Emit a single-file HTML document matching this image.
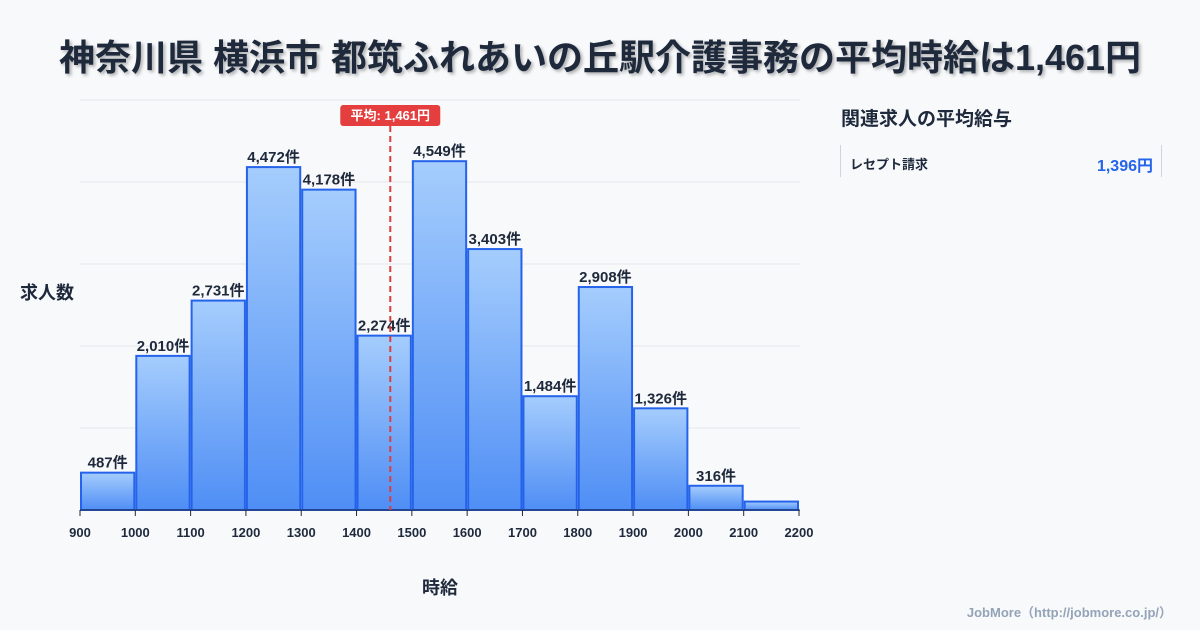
<!DOCTYPE html>
<html><head><meta charset="utf-8"><style>
body{margin:0;width:1200px;height:630px;background:#f8f9fb;font-family:"Liberation Sans","Noto Sans CJK JP",sans-serif;overflow:hidden;position:relative;color:#1e293b}
#title{position:absolute;left:0;width:1200px;top:29px;text-align:center;font-size:36px;font-weight:bold;color:#1e293b;text-shadow:2px 2px 3px rgba(0,0,0,0.3);white-space:nowrap}
#side-title{position:absolute;left:841px;top:104px;font-size:19px;font-weight:bold}
#side-item{position:absolute;left:840px;top:145px;width:320px;height:32px;border-left:1px solid #cbd5e1;border-right:1px solid #cbd5e1}
#side-item .l{position:absolute;left:9px;top:9px;font-size:13px;font-weight:bold}
#side-item .r{position:absolute;right:8px;top:7px;font-size:16px;font-weight:bold;color:#2563eb}
#credit{position:absolute;right:28px;top:602px;font-size:13px;color:#94a3b8;font-weight:bold}
</style></head><body>
<div id="title">神奈川県 横浜市 都筑ふれあいの丘駅介護事務の平均時給は1,461円</div>
<svg id="chart" width="1200" height="630" style="position:absolute;left:0;top:0">
<defs><linearGradient id="g" x1="0" y1="0" x2="0" y2="1"><stop offset="0" stop-color="#a5cdfd"/><stop offset="1" stop-color="#4f8ef5"/></linearGradient></defs>
</svg>
<div id="side-title">関連求人の平均給与</div>
<div id="side-item"><span class="l">レセプト請求</span><span class="r">1,396円</span></div>
<div id="credit">JobMore（http://jobmore.co.jp/）</div>
<script>
const bins=[900,1000,1100,1200,1300,1400,1500,1600,1700,1800,1900,2000,2100];
const counts=[487,2010,2731,4472,4178,2274,4549,3403,1484,2908,1326,316,110];
const showLabel=[1,1,1,1,1,1,1,1,1,1,1,1,0];
const xTicks=[900,1000,1100,1200,1300,1400,1500,1600,1700,1800,1900,2000,2100,2200];
const avg=1461;
const NS="http://www.w3.org/2000/svg";
const svg=document.getElementById('chart');
const x=v=>80+(v-900)*(719/1300);
const y=v=>510-v*(410/5347);
function mk(t,a,txt){const e=document.createElementNS(NS,t);for(const k in a)e.setAttribute(k,a[k]);if(txt!=null)e.textContent=txt;svg.appendChild(e);return e;}
for(let i=0;i<=5;i++){const g=mk('line',{x1:80,x2:800,y1:510-82*i,y2:510-82*i,stroke:'#e5e7eb','stroke-width':1});

}
bins.forEach((b,i)=>{
const r=mk('rect',{x:x(b)+1,y:y(counts[i]),width:x(b+100)-x(b)-2,height:510-y(counts[i]),fill:'url(#g)',stroke:'#2563eb','stroke-width':2});


if(showLabel[i]){const t=mk('text',{x:(x(b)+x(b+100))/2,y:y(counts[i])-5,'text-anchor':'middle','font-size':15,'font-weight':'bold',fill:'#1e293b'},counts[i].toLocaleString('en-US')+'件');

}
});
mk('line',{x1:80,x2:800,y1:510,y2:510,stroke:'#1e293b','stroke-width':1});
xTicks.forEach(v=>{mk('line',{x1:x(v),x2:x(v),y1:510,y2:516,stroke:'#1e293b'});
const t=mk('text',{x:x(v),y:537,'text-anchor':'middle','font-size':13,'font-weight':'bold',fill:'#1e293b'},v);

});
const al=mk('line',{x1:x(avg),x2:x(avg),y1:126,y2:510,stroke:'#dc3c3c','stroke-width':2,'stroke-dasharray':'6,4'});


const ab=mk('rect',{x:x(avg)-50,y:105,width:100,height:21,rx:3,fill:'#e53e3e'});


mk('text',{x:x(avg),y:120,'text-anchor':'middle','font-size':13,'font-weight':'bold',fill:'#fff'},'平均: 1,461円');
const yt=mk('text',{x:20,y:299,'font-size':18,'font-weight':'bold',fill:'#1e293b'},'求人数');


const xt=mk('text',{x:440,y:594,'text-anchor':'middle','font-size':18,'font-weight':'bold',fill:'#1e293b'},'時給');


</script>
</body></html>
